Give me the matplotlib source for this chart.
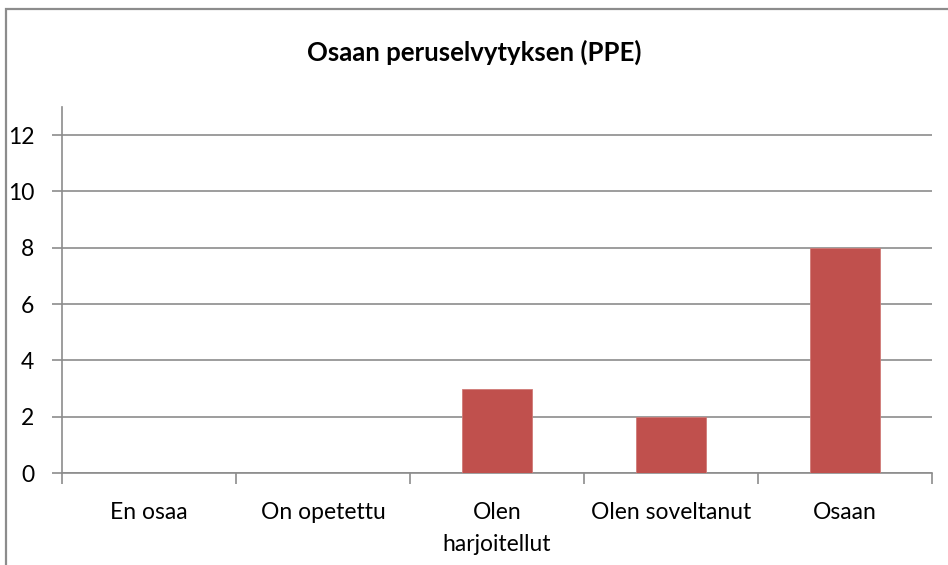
import matplotlib.pyplot as plt
from matplotlib.patches import Rectangle

categories = ['En osaa', 'On opetettu', 'Olen\nharjoitellut', 'Olen soveltanut', 'Osaan']
values = [0, 0, 3, 2, 8]
yticks = [0, 2, 4, 6, 8, 10, 12]

plt.rcParams['font.family'] = ['Lato', 'DejaVu Sans']

fig = plt.figure(figsize=(9.48, 5.65), dpi=100)
ax = fig.add_axes([62 / 948, 1 - 473 / 565, 870 / 948, 366 / 565])

# chart frame (runs off the right and bottom edge)
fig.patches.append(Rectangle((6 / 948, -0.1), 1.2, 1 - 9 / 565 + 0.1,
                             transform=fig.transFigure, fill=False,
                             edgecolor='#8c8c8c', linewidth=1.6))

x = list(range(len(categories)))
ax.bar(x, values, width=0.4, color='#c0504d', edgecolor='#d07a77', linewidth=0.6, zorder=3)

ax.set_xlim(-0.5, len(categories) - 0.5)
ax.set_ylim(0, 13)
ax.set_yticks(yticks)
ax.yaxis.grid(True, color='#8c8c8c', linewidth=1.2, zorder=0)

ax.set_xticks([i - 0.5 for i in range(len(categories) + 1)])
ax.set_xticklabels([])
ax.set_xticks(x, minor=True)
ax.set_xticklabels(categories, minor=True, fontsize=16.5, linespacing=1.65)
ax.tick_params(axis='x', which='minor', length=0, pad=21)
ax.tick_params(axis='x', which='major', length=8, width=1.2, color='#8c8c8c', direction='out')
ax.tick_params(axis='y', length=7, width=1.2, color='#8c8c8c', labelsize=16.5, pad=13)

for side in ['top', 'right']:
    ax.spines[side].set_visible(False)
for side in ['left', 'bottom']:
    ax.spines[side].set_color('#8c8c8c')
    ax.spines[side].set_linewidth(1.2)

fig.text(0.5, 1 - 52 / 565, 'Osaan peruselvytyksen (PPE)', ha='center', va='center',
         fontsize=18.5, fontweight='bold')

fig.savefig('out.png', dpi=100)
